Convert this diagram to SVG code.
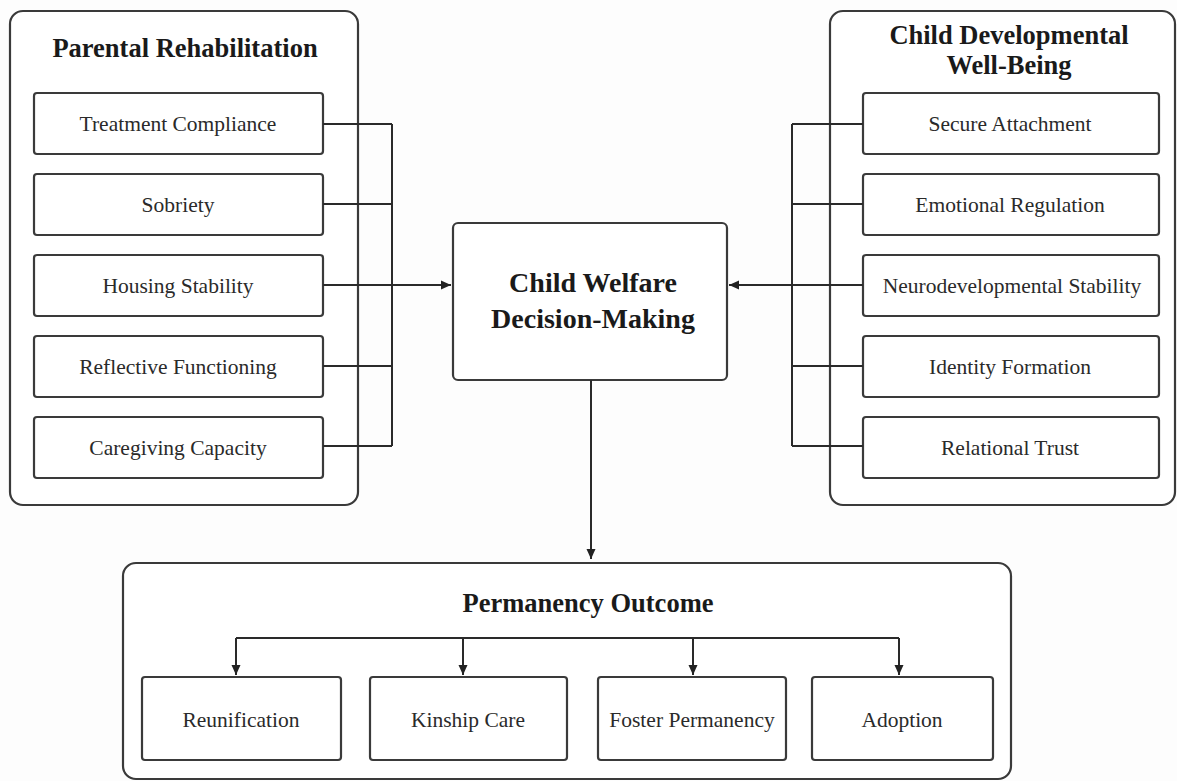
<svg xmlns="http://www.w3.org/2000/svg" width="1177" height="781" viewBox="0 0 1177 781">
<defs>
<marker id="arr" viewBox="0 0 10 10" refX="10" refY="5" markerWidth="10" markerHeight="10" markerUnits="userSpaceOnUse" orient="auto">
<path d="M0,0.5 L10,5 L0,9.5 Z" fill="#222"/>
</marker>
<style>
.panel{fill:#fff;stroke:#3a3a3a;stroke-width:2.2}
.box{fill:#fff;stroke:#3a3a3a;stroke-width:2.2}
.ln{fill:none;stroke:#2a2a2a;stroke-width:2}
.hd{font-family:"Liberation Serif","Times New Roman",serif;font-weight:bold;font-size:26.5px;fill:#1a1a1a;text-anchor:middle}
.ctr{font-family:"Liberation Serif","Times New Roman",serif;font-weight:bold;font-size:28px;fill:#1a1a1a;text-anchor:middle}
.it{font-family:"Liberation Serif","Times New Roman",serif;font-size:21.5px;fill:#2a2a2a;text-anchor:middle}
</style>
</defs>
<rect width="1177" height="781" fill="#fdfdfd"/>

<g id="parental-rehabilitation">
<rect class="panel" x="10" y="11" width="348" height="494" rx="13"/>
<text class="hd" x="185" y="57">Parental Rehabilitation</text>
</g>
<g id="treatment-compliance"><rect class="box" x="34" y="93" width="289" height="61" rx="3"/><text class="it" x="178" y="131">Treatment Compliance</text></g>
<g id="sobriety"><rect class="box" x="34" y="174" width="289" height="61" rx="3"/><text class="it" x="178" y="212">Sobriety</text></g>
<g id="housing-stability"><rect class="box" x="34" y="255" width="289" height="61" rx="3"/><text class="it" x="178" y="293">Housing Stability</text></g>
<g id="reflective-functioning"><rect class="box" x="34" y="336" width="289" height="61" rx="3"/><text class="it" x="178" y="374">Reflective Functioning</text></g>
<g id="caregiving-capacity"><rect class="box" x="34" y="417" width="289" height="61" rx="3"/><text class="it" x="178" y="455">Caregiving Capacity</text></g>

<g id="child-developmental-well-being">
<rect class="panel" x="830" y="11" width="345" height="494" rx="13"/>
<text class="hd" x="1009" y="44">Child Developmental</text>
<text class="hd" x="1009" y="74">Well-Being</text>
</g>
<g id="secure-attachment"><rect class="box" x="863" y="93" width="296" height="61" rx="3"/><text class="it" x="1010" y="131">Secure Attachment</text></g>
<g id="emotional-regulation"><rect class="box" x="863" y="174" width="296" height="61" rx="3"/><text class="it" x="1010" y="212">Emotional Regulation</text></g>
<g id="neurodevelopmental-stability"><rect class="box" x="863" y="255" width="296" height="61" rx="3"/><text class="it" x="1012" y="293">Neurodevelopmental Stability</text></g>
<g id="identity-formation"><rect class="box" x="863" y="336" width="296" height="61" rx="3"/><text class="it" x="1010" y="374">Identity Formation</text></g>
<g id="relational-trust"><rect class="box" x="863" y="417" width="296" height="61" rx="3"/><text class="it" x="1010" y="455">Relational Trust</text></g>

<g id="child-welfare-decision-making">
<rect class="box" x="453" y="223" width="274" height="157" rx="5"/>
<text class="ctr" x="593" y="292">Child Welfare</text>
<text class="ctr" x="593" y="328">Decision-Making</text>
</g>

<g id="permanency-outcome">
<rect class="panel" x="123" y="563" width="888" height="216" rx="13"/>
<text class="hd" x="588" y="612">Permanency Outcome</text>
</g>
<g id="reunification"><rect class="box" x="142" y="677" width="199" height="83" rx="3"/><text class="it" x="241" y="727">Reunification</text></g>
<g id="kinship-care"><rect class="box" x="370" y="677" width="197" height="83" rx="3"/><text class="it" x="468" y="727">Kinship Care</text></g>
<g id="foster-permanency"><rect class="box" x="598" y="677" width="188" height="83" rx="3"/><text class="it" x="692" y="727">Foster Permanency</text></g>
<g id="adoption"><rect class="box" x="812" y="677" width="181" height="83" rx="3"/><text class="it" x="902" y="727">Adoption</text></g>

<g id="connectors">
<path class="ln" d="M323,124 H392 M323,204 H392 M323,366 H392 M323,446 H392 M392,124 V446"/>
<path class="ln" d="M323,285 H451" marker-end="url(#arr)"/>
<path class="ln" d="M863,124 H792 M863,204 H792 M863,366 H792 M863,446 H792 M792,124 V446"/>
<path class="ln" d="M863,285 H729" marker-end="url(#arr)"/>
<path class="ln" d="M591,380 V559" marker-end="url(#arr)"/>
<path class="ln" d="M236,638 H899"/>
<path class="ln" d="M236,638 V675" marker-end="url(#arr)"/>
<path class="ln" d="M463,638 V675" marker-end="url(#arr)"/>
<path class="ln" d="M693,638 V675" marker-end="url(#arr)"/>
<path class="ln" d="M899,638 V675" marker-end="url(#arr)"/>
</g>
</svg>
